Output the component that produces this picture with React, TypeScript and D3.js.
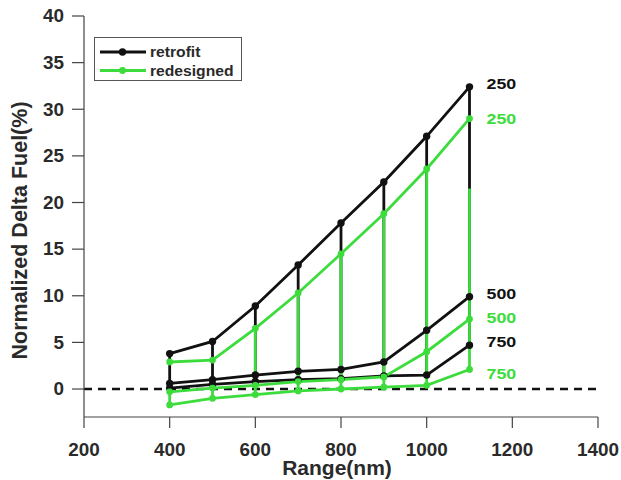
import React from "react";
import * as d3 from "d3";

// Flight range (nm) at which each configuration was evaluated
const ranges = [400, 500, 600, 700, 800, 900, 1000, 1100];

// Normalized delta fuel (%) per payload case
const retrofit250 = [3.8, 5.1, 8.9, 13.3, 17.8, 22.2, 27.1, 32.4];
const retrofit500 = [0.6, 1.0, 1.5, 1.9, 2.1, 2.9, 6.3, 9.9];
const retrofit750 = [0.1, 0.5, 0.8, 1.0, 1.1, 1.4, 1.5, 4.7];
const redesigned250 = [2.9, 3.1, 6.5, 10.3, 14.5, 18.8, 23.6, 29.0];
const redesigned500 = [-0.3, 0.1, 0.4, 0.8, 1.0, 1.3, 4.0, 7.5];
const redesigned750 = [-1.7, -1.0, -0.6, -0.2, 0.0, 0.2, 0.4, 2.1];

// Upper end of the green range connectors (they sit beneath the black ones where shorter)
const redesignedStemTop = [0.1, 0.5, 6.5, 10.3, 14.5, 18.8, 23.6, 21.5];

const xTicks = [200, 400, 600, 800, 1000, 1200, 1400];
const yTicks = [0, 5, 10, 15, 20, 25, 30, 35, 40];

const payloadLabels = ["250", "500", "750"];

const BLACK = "#111";
const GREEN = "#3ddc3d";
const TEXT = "#2a2a2a";
const FONT = "'Liberation Sans', Arial, sans-serif";

type TProps = {
  x: number;
  y: number;
  size: number;
  sx?: number;
  anchor?: "start" | "middle" | "end";
  fill?: string;
  rotate?: number;
  children: React.ReactNode;
};

// Bold label with a slight horizontal widening
function T({ x, y, size, sx = 1, anchor = "start", fill = TEXT, rotate = 0, children }: TProps) {
  return (
    <text
      transform={`translate(${x},${y}) rotate(${rotate}) scale(${sx},1)`}
      textAnchor={anchor}
      dominantBaseline="central"
      fontSize={size}
      fontWeight="bold"
      fill={fill}
    >
      {children}
    </text>
  );
}

export default function App() {
  const width = 621;
  const height = 480;
  const x = d3.scaleLinear().domain([200, 1400]).range([84, 598]);
  const y = d3.scaleLinear().domain([-3, 40]).range([417, 16]);

  const line = d3
    .line<number>()
    .x((_, i) => x(ranges[i]))
    .y((v) => y(v));

  const retrofit = [retrofit250, retrofit500, retrofit750];
  const redesigned = [redesigned250, redesigned500, redesigned750];

  const last = ranges.length - 1;
  const labelX = x(ranges[last]) + 17;
  const retroLabelDy = [-3, -3, -3];
  const redesLabelDy = [0, -1, 4];
  const SW = 2.8;

  return (
    <svg
      width={width}
      height={height}
      style={{ position: "absolute", left: 0, top: 0, background: "#fff" }}
      fontFamily={FONT}
    >
      {/* zero reference */}
      <line
        x1={x(200)}
        x2={x(1400)}
        y1={y(0)}
        y2={y(0)}
        stroke={BLACK}
        strokeWidth={2.4}
        strokeDasharray="8 6"
      />

      {/* retrofit range connectors */}
      {ranges.map((r, i) => (
        <line
          key={"rs" + r}
          x1={x(r)}
          x2={x(r)}
          y1={y(retrofit250[i])}
          y2={y(retrofit750[i])}
          stroke={BLACK}
          strokeWidth={SW}
        />
      ))}
      {/* retrofit payload lines */}
      {retrofit.map((s, k) => (
        <path key={"rl" + k} d={line(s) || ""} fill="none" stroke={BLACK} strokeWidth={SW} />
      ))}

      {/* redesigned range connectors */}
      {ranges.map((r, i) => (
        <line
          key={"gs" + r}
          x1={x(r)}
          x2={x(r)}
          y1={y(redesignedStemTop[i])}
          y2={y(redesigned750[i])}
          stroke={GREEN}
          strokeWidth={SW}
        />
      ))}
      {/* redesigned payload lines */}
      {redesigned.map((s, k) => (
        <path key={"gl" + k} d={line(s) || ""} fill="none" stroke={GREEN} strokeWidth={SW} />
      ))}

      {/* markers */}
      {retrofit.map((s, k) =>
        s.map((v, i) => (
          <circle key={`rm${k}-${i}`} cx={x(ranges[i])} cy={y(v)} r={3.7} fill={BLACK} />
        ))
      )}
      {redesigned.map((s, k) =>
        s.map((v, i) => (
          <circle key={`gm${k}-${i}`} cx={x(ranges[i])} cy={y(v)} r={3.4} fill={GREEN} />
        ))
      )}

      {/* payload labels at the end of each line */}
      {retrofit.map((s, k) => (
        <T key={"rt" + k} x={labelX} y={y(s[last]) + retroLabelDy[k]} size={15.5} sx={1.15} fill={BLACK}>
          {payloadLabels[k]}
        </T>
      ))}
      {redesigned.map((s, k) => (
        <T key={"gt" + k} x={labelX} y={y(s[last]) + redesLabelDy[k]} size={15.5} sx={1.15} fill={GREEN}>
          {payloadLabels[k]}
        </T>
      ))}

      {/* axes */}
      <line x1={x(200)} x2={x(200)} y1={y(40)} y2={y(-3)} stroke="#444" strokeWidth={1.2} />
      <line x1={x(200)} x2={x(1400)} y1={y(-3)} y2={y(-3)} stroke="#444" strokeWidth={1.2} />
      {yTicks.map((t) => (
        <g key={"yt" + t}>
          <line x1={x(200) - 12} x2={x(200)} y1={y(t)} y2={y(t)} stroke="#444" strokeWidth={1.2} />
          <T x={x(200) - 20} y={y(t)} size={18} sx={1.05} anchor="end">
            {t}
          </T>
        </g>
      ))}
      {xTicks.map((t) => (
        <g key={"xt" + t}>
          <line x1={x(t)} x2={x(t)} y1={y(-3)} y2={y(-3) + 11} stroke="#444" strokeWidth={1.2} />
          <T x={x(t)} y={y(-3) + 33} size={18} sx={1.05} anchor="middle">
            {t}
          </T>
        </g>
      ))}

      {/* axis titles */}
      <T x={337} y={467} size={21} anchor="middle">
        Range(nm)
      </T>
      <T x={20} y={y(17)} size={21.5} anchor="middle" rotate={-90}>
        Normalized Delta Fuel(%)
      </T>

      {/* legend */}
      <g>
        <rect x={94.5} y={37.5} width={147} height={43} fill="#fff" stroke="#555" strokeWidth={1} />
        <line x1={100} x2={146} y1={52} y2={52} stroke={BLACK} strokeWidth={SW} />
        <circle cx={122.5} cy={52} r={3.7} fill={BLACK} />
        <T x={150} y={52} size={14.5} sx={1.08}>
          retrofit
        </T>
        <line x1={100} x2={146} y1={70.5} y2={70.5} stroke={GREEN} strokeWidth={SW} />
        <circle cx={122.5} cy={70.5} r={3.4} fill={GREEN} />
        <T x={150} y={70.5} size={14.5} sx={1.08}>
          redesigned
        </T>
      </g>
    </svg>
  );
}
